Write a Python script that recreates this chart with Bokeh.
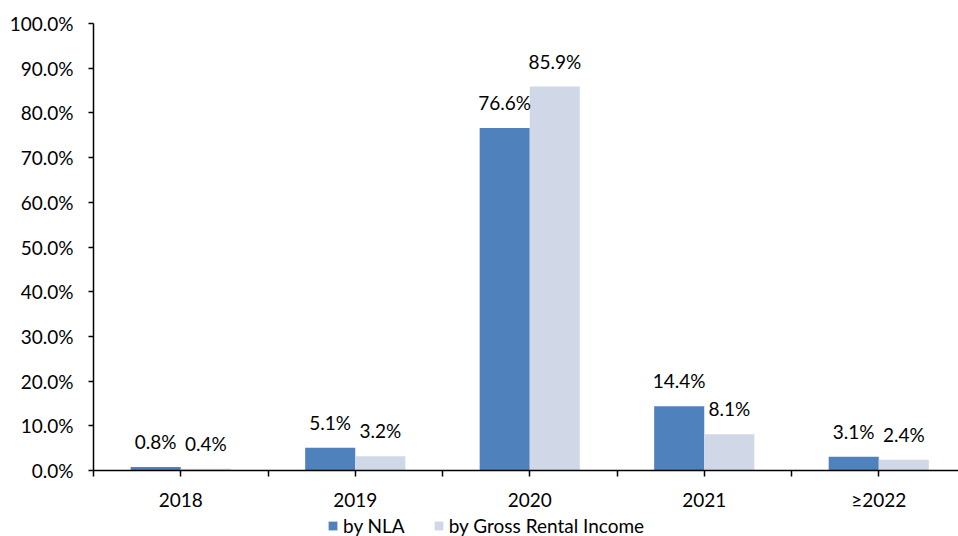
from bokeh.plotting import figure
from bokeh.layouts import column
from bokeh.models import (ColumnDataSource, Range1d, FixedTicker, CustomJSTickFormatter,
                          Legend, LegendItem)
from bokeh.core.properties import value
from bokeh.embed import file_html
from bokeh.resources import INLINE

# Lease expiry profile
categories = ["2018", "2019", "2020", "2021", "\u22652022"]
by_nla = [0.8, 5.1, 76.6, 14.4, 3.1]
by_gross_rental_income = [0.4, 3.2, 85.9, 8.1, 2.4]
y_ticks = [0, 10, 20, 30, 40, 50, 60, 70, 80, 90, 100]
series_names = ["by NLA", "by Gross Rental Income"]

FONT = "Lato"
FS = "19px"
INK = "#000000"
BLUE = "#4F81BD"
GREY = "#D0D8E8"
BAR_W = 0.287

centers = [i + 0.5 for i in range(len(categories))]
boundaries = list(range(len(categories) + 1))

src = ColumnDataSource(dict(
    x_nla=[c - BAR_W / 2 for c in centers],
    x_gri=[c + BAR_W / 2 for c in centers],
    nla=by_nla,
    gri=by_gross_rental_income,
    nla_txt=[f"{v:.1f}%" for v in by_nla],
    gri_txt=[f"{v:.1f}%" for v in by_gross_rental_income],
))

p = figure(width=958, height=513, output_backend="svg", toolbar_location=None,
           x_range=Range1d(0, 4.957), y_range=Range1d(0, 100),
           min_border_left=93, min_border_right=0, min_border_top=23, min_border_bottom=40)
p.outline_line_color = None
p.grid.visible = False
p.border_fill_color = "white"

p.vbar(x="x_nla", top="nla", width=BAR_W, source=src, fill_color=BLUE, line_color=None)
p.vbar(x="x_gri", top="gri", width=BAR_W, source=src, fill_color=GREY, line_color=None)

for xcol, ycol, tcol in (("x_nla", "nla", "nla_txt"), ("x_gri", "gri", "gri_txt")):
    p.text(x=xcol, y=ycol, text=tcol, source=src, text_align="center",
           text_baseline="bottom", y_offset=-14, text_font=value(FONT),
           text_font_size=FS, text_color=INK)

# y axis
ya = p.yaxis[0]
ya.ticker = FixedTicker(ticks=y_ticks)
ya.formatter = CustomJSTickFormatter(code="return tick.toFixed(1) + '%';")
ya.axis_line_width = 1.5
ya.axis_line_color = "black"
ya.major_tick_line_width = 1.5
ya.major_tick_out = 5
ya.major_tick_in = 0
ya.minor_tick_line_color = None
ya.major_label_standoff = 15
ya.major_label_text_font = FONT
ya.major_label_text_font_size = FS
ya.major_label_text_color = INK

# x axis: labels at category centres, ticks at centres and boundaries
xa = p.xaxis[0]
xa.ticker = FixedTicker(ticks=centers, minor_ticks=boundaries)
xa.formatter = CustomJSTickFormatter(args=dict(labels=categories),
                                     code="return labels[Math.floor(tick)];")
xa.axis_line_width = 1.5
xa.axis_line_color = "black"
xa.major_tick_line_width = 1.5
xa.minor_tick_line_width = 1.5
xa.minor_tick_line_color = "black"
xa.major_tick_out = 6
xa.major_tick_in = 0
xa.minor_tick_out = 6
xa.minor_tick_in = 0
xa.major_label_standoff = 11
xa.major_label_text_font = FONT
xa.major_label_text_font_size = FS
xa.major_label_text_color = INK

# legend strip under the chart (its frame lines up with the chart frame)
lg = figure(width=958, height=23, output_backend="svg", toolbar_location=None,
            x_range=Range1d(0, 1), y_range=Range1d(0, 1),
            x_axis_location=None, y_axis_location=None, min_border=0)
lg.outline_line_color = None
lg.grid.visible = False
swatch = ColumnDataSource(dict(x=[-5], top=[-5]))
d1 = lg.vbar(x="x", top="top", width=0.1, source=swatch, fill_color=BLUE, line_color=None)
d2 = lg.vbar(x="x", top="top", width=0.1, source=swatch, fill_color=GREY, line_color=None)
legend = Legend(items=[LegendItem(label=series_names[0], renderers=[d1], index=0),
                       LegendItem(label=series_names[1], renderers=[d2], index=0)],
                orientation="horizontal", location=(234, -1),
                glyph_width=11, glyph_height=11, label_standoff=5, spacing=28,
                padding=0, margin=0, border_line_color=None,
                background_fill_alpha=0,
                label_text_font=FONT, label_text_font_size=FS,
                label_text_color=INK, label_height=16)
lg.add_layout(legend, "center")

open("out.html", "w").write(file_html(column(p, lg, spacing=0), INLINE))
